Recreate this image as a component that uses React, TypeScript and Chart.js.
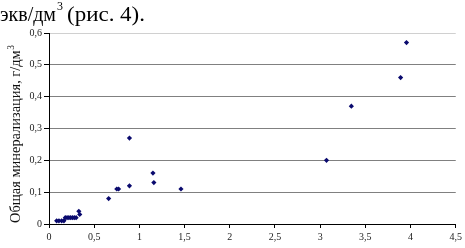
import React, { useEffect, useRef } from "react";
import { Chart, registerables } from "chart.js";

Chart.register(...registerables);

const xValues = [
  0.085, 0.11, 0.14, 0.165,
  0.18, 0.2, 0.22, 0.24, 0.26, 0.28, 0.3,
  0.33, 0.34, 0.66, 0.75, 0.77, 0.89, 0.89,
  1.15, 1.16, 1.46, 3.07, 3.345, 3.89, 3.955,
];
const yValues = [
  0.01, 0.01, 0.01, 0.01,
  0.02, 0.02, 0.02, 0.02, 0.02, 0.02, 0.02,
  0.04, 0.03, 0.08, 0.11, 0.11, 0.12, 0.27,
  0.16, 0.13, 0.11, 0.2, 0.37, 0.46, 0.57,
];
const yTitle = "Общая минерализация, г/дм";
const yTitleSup = "3";
const headingText = "экв/дм";
const headingSup = "3";
const headingRest = "(рис. 4).";

const fmt = (v: number) => {
  const r = Math.round(v * 10) / 10;
  return String(r).replace(".", ",");
};

const FAMILY = "'Liberation Serif'";

const textPlugin = {
  id: "textPlugin",
  afterDraw(chart: any) {
    const { ctx } = chart;
    ctx.save();
    ctx.fillStyle = "#000";
    ctx.textBaseline = "alphabetic";
    ctx.textAlign = "left";
    // heading fitted so "экв/дм" spans ~56px
    ctx.font = `20px ${FAMILY}`;
    const w20 = ctx.measureText(headingText).width;
    const hs = 20 * (56 / w20);
    ctx.font = `${hs}px ${FAMILY}`;
    ctx.fillText(headingText, 0, 20.5);
    ctx.font = `${hs * 0.6}px ${FAMILY}`;
    ctx.fillText(headingSup, 57, 10);
    ctx.font = `${hs}px ${FAMILY}`;
    const wr = ctx.measureText(headingRest).width;
    ctx.save();
    ctx.translate(67, 20.5);
    ctx.scale(78 / wr, 1);
    ctx.fillText(headingRest, 0, 0);
    ctx.restore();

    // rotated y-axis title, spanning y ~46..223
    ctx.font = `13px ${FAMILY}`;
    const wt = ctx.measureText(yTitle).width;
    const ws = ctx.measureText(yTitleSup).width * 0.65;
    const target = 177 - ws;
    const ts = 13 * (target / wt);
    ctx.translate(20, 223);
    ctx.rotate(-Math.PI / 2);
    ctx.fillStyle = "#111";
    ctx.font = `${ts}px ${FAMILY}`;
    ctx.fillText(yTitle, 0, 0);
    const tw = ctx.measureText(yTitle).width;
    ctx.font = `${ts * 0.65}px ${FAMILY}`;
    ctx.fillText(yTitleSup, tw + 0.5, -ts * 0.42);
    ctx.restore();
  },
};

export default function App() {
  const ref = useRef<HTMLCanvasElement | null>(null);
  useEffect(() => {
    if (!ref.current) return;
    const chart = new Chart(ref.current, {
      type: "scatter",
      data: {
        datasets: [
          {
            data: xValues.map((x, i) => ({ x, y: yValues[i] })),
            pointStyle: "rectRot",
            pointRadius: 2.6,
            backgroundColor: "#0a0a6e",
            borderColor: "#0a0a6e",
            borderWidth: 0,
          },
        ],
      },
      options: {
        animation: false,
        responsive: false,
        maintainAspectRatio: false,
        layout: { padding: { top: 33, right: 6, left: 0, bottom: 0 } },
        plugins: { legend: { display: false }, tooltip: { enabled: false } },
        scales: {
          x: {
            type: "linear",
            min: 0,
            max: 4.5,
            afterFit: (s: any) => { s.height = 24; },
            ticks: {
              stepSize: 0.5,
              callback: (v: any) => fmt(Number(v)),
              color: "#222",
              font: { family: "Liberation Serif", size: 10 },
              padding: 3,
              maxRotation: 0,
            },
            grid: {
              drawOnChartArea: false,
              drawTicks: true,
              tickLength: 4,
              tickColor: "#000",
            },
            border: { color: "#000", width: 1 },
          },
          y: {
            min: 0,
            max: 0.6,
            afterFit: (s: any) => { s.width = 49; },
            ticks: {
              stepSize: 0.1,
              callback: (v: any) => fmt(Number(v)),
              color: "#222",
              font: { family: "Liberation Serif", size: 10 },
              padding: 2,
            },
            grid: {
              color: (c: any) => (c.tick && Math.abs(c.tick.value - 0.6) < 1e-6 ? "#d0d0d0" : "#808080"),
              tickLength: 5,
              tickColor: "#000",
            },
            border: { color: "#000", width: 1 },
          },
        },
      },
      plugins: [textPlugin],
    });
    return () => chart.destroy();
  }, []);
  return (
    <div style={{ position: "absolute", left: 0, top: 0, width: 465, height: 248, background: "#fff", overflow: "hidden" }}>
      <canvas ref={ref} width={465} height={248} style={{ position: "absolute", left: 0, top: 0 }} />
    </div>
  );
}
